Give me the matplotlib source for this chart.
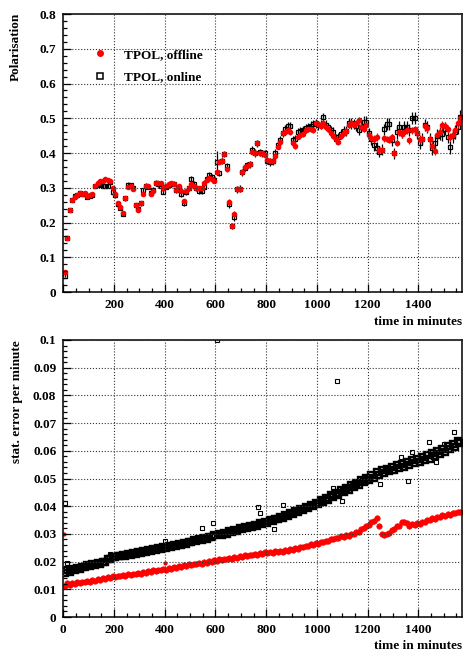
import numpy as np
import matplotlib
matplotlib.use("Agg")
import matplotlib.pyplot as plt
from matplotlib.lines import Line2D
from matplotlib.ticker import MultipleLocator

plt.rcParams['font.family'] = ['Liberation Serif', 'DejaVu Serif']
plt.rcParams['font.weight'] = 'bold'

# 10 minute bins, centre of bin
t_bins = np.arange(5, 1575, 10)

# polarisation, TPOL offline (red) and online (black)
pol_offline = [
    0.058, 0.155, 0.237, 0.265, 0.272, 0.279, 0.286, 0.283, 0.284, 0.277,
    0.280, 0.282, 0.305, 0.315, 0.318, 0.320, 0.325, 0.323, 0.318, 0.300,
    0.282, 0.255, 0.245, 0.228, 0.270, 0.302, 0.305, 0.295, 0.250, 0.235,
    0.256, 0.282, 0.305, 0.305, 0.283, 0.290, 0.315, 0.315, 0.315, 0.298,
    0.305, 0.310, 0.313, 0.310, 0.293, 0.305, 0.290, 0.263, 0.290, 0.300,
    0.310, 0.305, 0.300, 0.298, 0.298, 0.315, 0.322, 0.328, 0.326, 0.320,
    0.346, 0.375, 0.378, 0.397, 0.353, 0.260, 0.190, 0.225, 0.295, 0.295,
    0.344, 0.359, 0.363, 0.367, 0.403, 0.400, 0.428, 0.399, 0.399, 0.394,
    0.380, 0.378, 0.377, 0.390, 0.418, 0.432, 0.457, 0.460, 0.465, 0.460,
    0.430, 0.420, 0.447, 0.452, 0.455, 0.465, 0.468, 0.468, 0.466, 0.485,
    0.483, 0.478, 0.485, 0.475, 0.468, 0.457, 0.450, 0.440, 0.433, 0.449,
    0.457, 0.462, 0.480, 0.485, 0.480, 0.485, 0.494, 0.476, 0.470, 0.480,
    0.452, 0.442, 0.440, 0.445, 0.410, 0.409, 0.442, 0.440, 0.438, 0.445,
    0.399, 0.430, 0.460, 0.455, 0.459, 0.465, 0.437, 0.465, 0.468, 0.457,
    0.440, 0.440, 0.478, 0.471, 0.440, 0.420, 0.405, 0.452, 0.461, 0.481,
    0.478, 0.470, 0.445, 0.452, 0.466, 0.485, 0.500]
pol_online = [
    0.047, 0.155, 0.237, 0.265, 0.275, 0.278, 0.285, 0.282, 0.283, 0.274,
    0.276, 0.280, 0.305, 0.310, 0.307, 0.305, 0.306, 0.306, 0.316, 0.287,
    0.278, 0.252, 0.243, 0.225, 0.270, 0.308, 0.308, 0.300, 0.250, 0.240,
    0.256, 0.293, 0.305, 0.303, 0.285, 0.293, 0.315, 0.310, 0.306, 0.289,
    0.303, 0.308, 0.312, 0.312, 0.293, 0.300, 0.283, 0.255, 0.287, 0.298,
    0.325, 0.312, 0.300, 0.292, 0.292, 0.302, 0.325, 0.337, 0.330, 0.322,
    0.373, 0.342, 0.378, 0.397, 0.363, 0.252, 0.190, 0.215, 0.295, 0.297,
    0.344, 0.358, 0.365, 0.368, 0.409, 0.400, 0.428, 0.402, 0.399, 0.399,
    0.378, 0.375, 0.377, 0.399, 0.423, 0.437, 0.457, 0.468, 0.478, 0.478,
    0.437, 0.440, 0.460, 0.462, 0.466, 0.471, 0.475, 0.478, 0.483, 0.485,
    0.480, 0.482, 0.503, 0.480, 0.474, 0.465, 0.460, 0.440, 0.445, 0.455,
    0.462, 0.464, 0.487, 0.485, 0.483, 0.478, 0.466, 0.476, 0.490, 0.490,
    0.457, 0.440, 0.423, 0.415, 0.404, 0.410, 0.468, 0.483, 0.483, 0.437,
    0.399, 0.459, 0.476, 0.462, 0.474, 0.474, 0.465, 0.500, 0.500, 0.457,
    0.428, 0.440, 0.481, 0.475, 0.440, 0.414, 0.430, 0.450, 0.455, 0.455,
    0.470, 0.447, 0.416, 0.450, 0.460, 0.475, 0.503]

# stat. error per minute (one value per 10 min)
err_offline = [
    0.0112, 0.0121, 0.0115, 0.0122, 0.0119, 0.0125, 0.0122, 0.0128, 0.0125, 0.0130,
    0.0128, 0.0133, 0.0131, 0.0136, 0.0134, 0.0139, 0.0137, 0.0143, 0.0141, 0.0147,
    0.0144, 0.0149, 0.0147, 0.0152, 0.0149, 0.0154, 0.0151, 0.0157, 0.0154, 0.0159,
    0.0157, 0.0162, 0.0160, 0.0165, 0.0163, 0.0168, 0.0166, 0.0171, 0.0168, 0.0174,
    0.0171, 0.0177, 0.0174, 0.0180, 0.0177, 0.0183, 0.0181, 0.0186, 0.0184, 0.0190,
    0.0187, 0.0193, 0.0190, 0.0196, 0.0193, 0.0199, 0.0196, 0.0202, 0.0199, 0.0205,
    0.0202, 0.0208, 0.0205, 0.0211, 0.0208, 0.0214, 0.0211, 0.0217, 0.0214, 0.0220,
    0.0217, 0.0223, 0.0220, 0.0225, 0.0223, 0.0228, 0.0225, 0.0231, 0.0228, 0.0234,
    0.0230, 0.0235, 0.0232, 0.0237, 0.0234, 0.0239, 0.0236, 0.0242, 0.0239, 0.0245,
    0.0243, 0.0249, 0.0247, 0.0253, 0.0251, 0.0257, 0.0255, 0.0262, 0.0260, 0.0267,
    0.0265, 0.0271, 0.0270, 0.0276, 0.0274, 0.0281, 0.0280, 0.0286, 0.0284, 0.0291,
    0.0289, 0.0295, 0.0294, 0.0301, 0.0300, 0.0308, 0.0308, 0.0318, 0.0320, 0.0330,
    0.0333, 0.0344, 0.0348, 0.0358, 0.0328, 0.0300, 0.0296, 0.0298, 0.0303, 0.0315,
    0.0318, 0.0327, 0.0328, 0.0342, 0.0343, 0.0340, 0.0330, 0.0335, 0.0333, 0.0339,
    0.0337, 0.0344, 0.0343, 0.0350, 0.0349, 0.0356, 0.0355, 0.0362, 0.0361, 0.0368,
    0.0366, 0.0372, 0.0370, 0.0376, 0.0374, 0.0380, 0.0378]
err_online = [
    0.0158, 0.0168, 0.0163, 0.0174, 0.0170, 0.0177, 0.0174, 0.0182, 0.0179, 0.0186,
    0.0184, 0.0190, 0.0187, 0.0195, 0.0192, 0.0199, 0.0197, 0.0209, 0.0210, 0.0218,
    0.0216, 0.0222, 0.0219, 0.0224, 0.0220, 0.0227, 0.0224, 0.0230, 0.0227, 0.0234,
    0.0231, 0.0237, 0.0234, 0.0241, 0.0238, 0.0245, 0.0243, 0.0249, 0.0246, 0.0253,
    0.0250, 0.0257, 0.0254, 0.0260, 0.0257, 0.0264, 0.0261, 0.0268, 0.0265, 0.0272,
    0.0270, 0.0277, 0.0274, 0.0281, 0.0278, 0.0285, 0.0283, 0.0290, 0.0288, 0.0296,
    0.1000, 0.0300, 0.0297, 0.0305, 0.0301, 0.0309, 0.0306, 0.0314, 0.0312, 0.0320,
    0.0317, 0.0325, 0.0321, 0.0328, 0.0325, 0.0333, 0.0329, 0.0338, 0.0335, 0.0344,
    0.0341, 0.0350, 0.0346, 0.0355, 0.0352, 0.0361, 0.0358, 0.0369, 0.0366, 0.0377,
    0.0373, 0.0384, 0.0379, 0.0390, 0.0385, 0.0396, 0.0392, 0.0404, 0.0399, 0.0412,
    0.0407, 0.0421, 0.0415, 0.0430, 0.0424, 0.0440, 0.0432, 0.0448, 0.0442, 0.0458,
    0.0452, 0.0467, 0.0460, 0.0476, 0.0468, 0.0484, 0.0476, 0.0493, 0.0486, 0.0503,
    0.0495, 0.0512, 0.0503, 0.0522, 0.0513, 0.0530, 0.0520, 0.0536, 0.0526, 0.0542,
    0.0532, 0.0547, 0.0537, 0.0553, 0.0543, 0.0560, 0.0549, 0.0566, 0.0555, 0.0572,
    0.0560, 0.0578, 0.0566, 0.0584, 0.0572, 0.0592, 0.0580, 0.0600, 0.0587, 0.0607,
    0.0596, 0.0616, 0.0605, 0.0626, 0.0615, 0.0637, 0.0628]

# single minutes off the band
out_on_t = [7, 15, 92, 185, 188, 355, 401, 546, 592, 769, 775, 830, 868,
            1065, 1078, 1100, 1250, 1330, 1360, 1374, 1440, 1470, 1500, 1539]
out_on_v = [0.041, 0.0195, 0.0185, 0.0228, 0.0222, 0.0248, 0.0275, 0.032,
            0.034, 0.0398, 0.0375, 0.0317, 0.0404, 0.0467, 0.0852, 0.0420,
            0.0480, 0.0579, 0.0492, 0.0597, 0.0633, 0.0560, 0.0625, 0.0669]
out_off_t = [3, 401]
out_off_v = [0.030, 0.0195]

# 10 minute average -> error of the bin
pol_err_off = np.array(err_offline) / np.sqrt(10)
pol_err_on = np.array(err_online) / np.sqrt(10)

fig = plt.figure(figsize=(4.64, 6.52), dpi=100)
ax1 = fig.add_axes([63.3/464, 1-292/652, 398.7/464, 278/652])
ax2 = fig.add_axes([63.3/464, 1-617/652, 398.7/464, 277/652])

ax1.errorbar(t_bins, pol_online, yerr=pol_err_on, fmt='s', ms=3.2, mfc='none',
             mec='black', mew=0.9, ecolor='black', elinewidth=0.9, capsize=0)
ax1.errorbar(t_bins, pol_offline, yerr=pol_err_off, fmt='o', ms=3.0, mfc='red',
             mec='red', ecolor='red', elinewidth=0.9, capsize=0)

# the band is one point per minute in the original, so draw it chunky
band_on = np.array(err_online)
band_on = np.where(band_on > 0.09, np.nan, band_on)
ax2.plot(t_bins, band_on, 's', ms=4.3, mfc='none', mec='black', mew=1.7)
ax2.plot(out_on_t + [605], out_on_v + [err_online[60]], 's', ms=2.8,
         mfc='none', mec='black', mew=0.8)
ax2.plot(t_bins, err_offline, 'o', ms=3.9, mfc='red', mec='red', mew=0.5)
ax2.plot(out_off_t, out_off_v, 'o', ms=2.0, mfc='red', mec='red')

handles = [Line2D([], [], ls='none', marker='o', ms=4.0, mfc='red', mec='red'),
           Line2D([], [], ls='none', marker='s', ms=4.2, mfc='none', mec='black', mew=1.1)]
ax1.legend(handles, ['TPOL, offline', 'TPOL, online'], loc='upper left',
           bbox_to_anchor=(0.0755, 0.875), frameon=False, borderpad=0,
           borderaxespad=0, handlelength=1.0, handletextpad=1.3,
           labelspacing=0.75, prop={'family': 'Liberation Serif', 'weight': 'bold', 'size': 9.5})

for ax, ymax, ymaj, ymin in [(ax1, 0.8, 0.1, 0.02), (ax2, 0.1, 0.01, 0.002)]:
    ax.set_xlim(0, 1572)
    ax.set_ylim(0, ymax)
    ax.xaxis.set_major_locator(MultipleLocator(200))
    ax.xaxis.set_minor_locator(MultipleLocator(50))
    ax.yaxis.set_major_locator(MultipleLocator(ymaj))
    ax.yaxis.set_minor_locator(MultipleLocator(ymin))
    ax.grid(True, which='major', color='#333333', ls=':', lw=0.8)
    ax.set_axisbelow(False)
    ax.tick_params(which='both', direction='in', top=False, right=False,
                   labelsize=9.5, width=0.9)
    ax.tick_params(which='major', length=6, pad=5)
    ax.tick_params(which='minor', length=3)
    for s in ax.spines.values():
        s.set_linewidth(1.1)
    for lab in ax.get_xticklabels() + ax.get_yticklabels():
        lab.set_fontweight('bold')

ax1.set_yticks(np.arange(0, 0.81, 0.1))
ax1.set_yticklabels(['0', '0.1', '0.2', '0.3', '0.4', '0.5', '0.6', '0.7', '0.8'])
ax1.set_xticks(np.arange(0, 1401, 200))
ax1.set_xticklabels(['', '200', '400', '600', '800', '1000', '1200', '1400'])
ax2.set_yticks(np.arange(0, 0.1001, 0.01))
ax2.set_yticklabels(['0', '0.01', '0.02', '0.03', '0.04', '0.05', '0.06',
                     '0.07', '0.08', '0.09', '0.1'])
ax2.set_xticks(np.arange(0, 1401, 200))
ax2.set_xticklabels(['0', '200', '400', '600', '800', '1000', '1200', '1400'])

fig.text(16/464, 1-13/652, 'Polarisation', rotation=90, ha='center', va='top',
         fontsize=9.5, fontweight='bold')
fig.text(17/464, 1-340/652, 'stat. error per minute', rotation=90, ha='center',
         va='top', fontsize=9.5, fontweight='bold')
fig.text(462/464, 1-322/652, 'time in minutes', ha='right', va='center',
         fontsize=9.5, fontweight='bold')
fig.text(462/464, 1-646/652, 'time in minutes', ha='right', va='center',
         fontsize=9.5, fontweight='bold')

fig.savefig('out.png', dpi=100)
